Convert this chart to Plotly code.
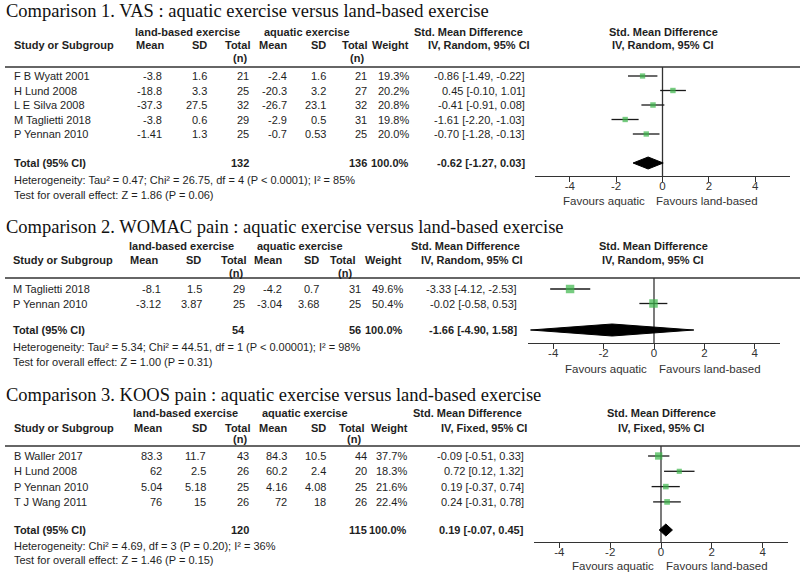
import plotly.graph_objects as go

W, H = 800, 572
SANS = "Liberation Sans, Arial, sans-serif"
SERIF = "Liberation Serif, Times New Roman, serif"
INK = "#1e1e1e"
GREEN = "#3cb64a"

# ---------------- data: Comparison 1 (VAS) ----------------
c1_title = "Comparison 1. VAS : aquatic exercise versus land-based exercise"
c1_method = "IV, Random, 95% CI"
c1_studies = ["F B Wyatt 2001", "H Lund 2008", "L E Silva 2008", "M Taglietti 2018", "P Yennan 2010"]
c1_land_mean = [-3.8, -18.8, -37.3, -3.8, -1.41]
c1_land_sd = [1.6, 3.3, 27.5, 0.6, 1.3]
c1_land_n = [21, 25, 32, 29, 25]
c1_aq_mean = [-2.4, -20.3, -26.7, -2.9, -0.7]
c1_aq_sd = [1.6, 3.2, 23.1, 0.5, 0.53]
c1_aq_n = [21, 27, 32, 31, 25]
c1_weight = [19.3, 20.2, 20.8, 19.8, 20.0]
c1_smd = [-0.86, 0.45, -0.41, -1.61, -0.70]
c1_lo = [-1.49, -0.10, -0.91, -2.20, -1.28]
c1_hi = [-0.22, 1.01, 0.08, -1.03, -0.13]
c1_total_n = [132, 136]
c1_total_smd = [-0.62, -1.27, 0.03]
c1_het = "Heterogeneity: Tau² = 0.47; Chi² = 26.75, df = 4 (P < 0.0001); I² = 85%"
c1_test = "Test for overall effect: Z = 1.86 (P = 0.06)"

# ---------------- data: Comparison 2 (WOMAC pain) ----------------
c2_title = "Comparison 2. WOMAC pain : aquatic exercise versus land-based exercise"
c2_method = "IV, Random, 95% CI"
c2_studies = ["M Taglietti 2018", "P Yennan 2010"]
c2_land_mean = [-8.1, -3.12]
c2_land_sd = [1.5, 3.87]
c2_land_n = [29, 25]
c2_aq_mean = [-4.2, -3.04]
c2_aq_sd = [0.7, 3.68]
c2_aq_n = [31, 25]
c2_weight = [49.6, 50.4]
c2_smd = [-3.33, -0.02]
c2_lo = [-4.12, -0.58]
c2_hi = [-2.53, 0.53]
c2_total_n = [54, 56]
c2_total_smd = [-1.66, -4.90, 1.58]
c2_het = "Heterogeneity: Tau² = 5.34; Chi² = 44.51, df = 1 (P < 0.00001); I² = 98%"
c2_test = "Test for overall effect: Z = 1.00 (P = 0.31)"

# ---------------- data: Comparison 3 (KOOS pain) ----------------
c3_title = "Comparison 3. KOOS pain : aquatic exercise versus land-based exercise"
c3_method = "IV, Fixed, 95% CI"
c3_studies = ["B Waller 2017", "H Lund 2008", "P Yennan 2010", "T J Wang 2011"]
c3_land_mean = [83.3, 62, 5.04, 76]
c3_land_sd = [11.7, 2.5, 5.18, 15]
c3_land_n = [43, 26, 25, 26]
c3_aq_mean = [84.3, 60.2, 4.16, 72]
c3_aq_sd = [10.5, 2.4, 4.08, 18]
c3_aq_n = [44, 20, 25, 26]
c3_weight = [37.7, 18.3, 21.6, 22.4]
c3_smd = [-0.09, 0.72, 0.19, 0.24]
c3_lo = [-0.51, 0.12, -0.37, -0.31]
c3_hi = [0.33, 1.32, 0.74, 0.78]
c3_total_n = [120, 115]
c3_total_smd = [0.19, -0.07, 0.45]
c3_het = "Heterogeneity: Chi² = 4.69, df = 3 (P = 0.20); I² = 36%"
c3_test = "Test for overall effect: Z = 1.46 (P = 0.15)"

tick_vals = [-4, -2, 0, 2, 4]
tick_text = ["-4", "-2", "0", "2", "4"]
fav_left = "Favours aquatic"
fav_right = "Favours land-based"

# ---------------- layout geometry (pixels) ----------------
L1 = dict(title=11, h1=32, h2=45, hn=58, line=67, row0=76, step=14.5, tot=163, het=180, test=195,
          axis=176, fav=201, xd=(535, 790), xr=(-5.5, 5.5),
          cols=(13, 163, 208, 250, 288, 327, 368, 410, 526), hcols=(165, 208, 251, 288, 327, 368, 410),
          land_c=187, aq_c=307, smd_h=(468, 479), right_c=663, fav_x=(646, 655))
L2 = dict(title=227, h1=246, h2=260, hn=273, line=278, row0=289, step=14.5, tot=330, het=347, test=362,
          axis=343, fav=368.5, xd=(528, 780), xr=(-5, 5),
          cols=(12, 162, 203, 246, 283, 320, 362, 404, 518), hcols=(159, 202, 247, 283, 320, 356, 403),
          land_c=181, aq_c=300, smd_h=(465, 472), right_c=653, fav_x=(648, 658))
L3 = dict(title=395, h1=413, h2=428, hn=439, line=446, row0=456, step=15.3, tot=530, het=546, test=560,
          axis=542, fav=566, xd=(534, 788), xr=(-5, 5),
          cols=(13, 163, 207, 250, 288, 327, 368, 408, 525), hcols=(163, 208, 251, 288, 327, 365, 409),
          land_c=185, aq_c=305, smd_h=(467, 484), right_c=661, fav_x=(655, 665))

fig = go.Figure()
annotations = []
shapes = []
layout_axes = {}


def txt(x, y, s, anchor="left", bold=False, size=11, family=SANS, color=INK):
    if bold:
        s = "<b>" + s + "</b>"
    annotations.append(dict(x=x / W, y=1 - y / H, xref="paper", yref="paper", text=s,
                            showarrow=False, xanchor=anchor, yanchor="middle", borderpad=0,
                            font=dict(family=family, size=size, color=color)))


def fmt(v):
    return str(v)


def add_panel(k, title, method, studies, lm, lsd, ln, am, asd, an, wt, est, lo, hi,
              tot_n, tot_smd, het, test, L):
    sx = "" if k == 1 else str(k)
    c = L["cols"]
    hc = L["hcols"]
    # title
    txt(5, L["title"], title, size=18.5, family=SERIF, color="#111")
    # headers
    txt(L["land_c"], L["h1"], "land-based exercise", "center", True)
    txt(L["aq_c"], L["h1"], "aquatic exercise", "center", True)
    txt(c[0], L["h2"], "Study or Subgroup", "left", True)
    for x, s in zip(hc, ["Mean", "SD", "Total", "Mean", "SD", "Total", "Weight"]):
        txt(x, L["h2"], s, "right", True)
    txt(hc[2] - 11, L["hn"], "(n)", "center", True)
    txt(hc[5] - 11, L["hn"], "(n)", "center", True)
    txt(L["smd_h"][0], L["h1"], "Std. Mean Difference", "center", True)
    txt(L["smd_h"][1], L["h2"], method, "center", True)
    txt(L["right_c"], L["h1"], "Std. Mean Difference", "center", True)
    txt(L["right_c"], L["h2"], method, "center", True)
    shapes.append(dict(type="line", xref="paper", yref="paper", x0=5 / W, x1=1,
                       y0=1 - L["line"] / H, y1=1 - L["line"] / H,
                       line=dict(color="#333", width=1.4)))
    # study rows
    rows_y = [L["row0"] + i * L["step"] for i in range(len(studies))]
    for i, y in enumerate(rows_y):
        txt(c[0], y, studies[i])
        vals = [fmt(lm[i]), fmt(lsd[i]), fmt(ln[i]), fmt(am[i]), fmt(asd[i]), fmt(an[i]),
                f"{wt[i]:.1f}%", f"{est[i]:.2f} [{lo[i]:.2f}, {hi[i]:.2f}]"]
        for x, s in zip(c[1:], vals):
            txt(x, y, s, "right")
    # total row
    ty = L["tot"]
    txt(c[0], ty, "Total (95% CI)", "left", True)
    txt(c[3], ty, str(tot_n[0]), "right", True)
    txt(c[6], ty, str(tot_n[1]), "right", True)
    txt(c[7], ty, "100.0%", "right", True)
    txt(c[8], ty, f"{tot_smd[0]:.2f} [{tot_smd[1]:.2f}, {tot_smd[2]:.2f}]", "right", True)
    txt(c[0], L["het"], het)
    txt(c[0], L["test"], test)
    # favours labels
    txt(L["fav_x"][0], L["fav"], fav_left, "right", size=11.5, color="#333")
    txt(L["fav_x"][1], L["fav"], fav_right, "left", size=11.5, color="#333")

    xa, ya = "x" + sx, "y" + sx
    # line of no effect
    shapes.append(dict(type="line", xref=xa, yref=ya + " domain", x0=0, x1=0, y0=0, y1=1,
                       line=dict(color="#333", width=1.3), layer="below"))
    # whiskers + boxes
    fig.add_trace(go.Scatter(
        x=est, y=rows_y, xaxis=xa, yaxis=ya, mode="markers",
        marker=dict(symbol="square", size=[1.2 * w ** 0.5 for w in wt], color=GREEN,
                    line=dict(width=0)),
        error_x=dict(type="data", symmetric=False,
                     array=[h - e for h, e in zip(hi, est)],
                     arrayminus=[e - l for e, l in zip(est, lo)],
                     color="#1a1a1a", thickness=1.3, width=0),
        showlegend=False, hoverinfo="skip"))
    # diamond
    dh = 6
    fig.add_trace(go.Scatter(
        x=[tot_smd[1], tot_smd[0], tot_smd[2], tot_smd[0], tot_smd[1]],
        y=[ty, ty - dh, ty, ty + dh, ty], xaxis=xa, yaxis=ya, mode="lines",
        fill="toself", fillcolor="#000", line=dict(color="#000", width=1),
        showlegend=False, hoverinfo="skip"))

    dom = [L["xd"][0] / W, L["xd"][1] / W]
    layout_axes["xaxis" + sx] = dict(
        domain=dom, range=list(L["xr"]), anchor=ya, showline=True, linecolor="#333", linewidth=1.4,
        ticks="outside", ticklen=5, tickwidth=1.3, tickcolor="#333",
        tickvals=tick_vals, ticktext=tick_text, ticklabelstandoff=-6,
        tickfont=dict(family=SANS, size=11.5, color="#333"),
        zeroline=False, showgrid=False, fixedrange=True)
    layout_axes["yaxis" + sx] = dict(
        domain=[1 - L["axis"] / H, 1 - L["line"] / H], range=[L["axis"], L["line"]],
        visible=False, fixedrange=True)
    ov = str(k + 3)
    layout_axes["xaxis" + ov] = dict(
        overlaying="x" + sx, range=list(L["xr"]), anchor=ya, side="bottom", showline=False,
        ticks="inside", ticklen=5, tickwidth=1.3, tickcolor="#333", tickvals=tick_vals,
        showticklabels=False, zeroline=False, showgrid=False, fixedrange=True)


add_panel(1, c1_title, c1_method, c1_studies, c1_land_mean, c1_land_sd, c1_land_n, c1_aq_mean,
          c1_aq_sd, c1_aq_n, c1_weight, c1_smd, c1_lo, c1_hi, c1_total_n, c1_total_smd,
          c1_het, c1_test, L1)
add_panel(2, c2_title, c2_method, c2_studies, c2_land_mean, c2_land_sd, c2_land_n, c2_aq_mean,
          c2_aq_sd, c2_aq_n, c2_weight, c2_smd, c2_lo, c2_hi, c2_total_n, c2_total_smd,
          c2_het, c2_test, L2)
add_panel(3, c3_title, c3_method, c3_studies, c3_land_mean, c3_land_sd, c3_land_n, c3_aq_mean,
          c3_aq_sd, c3_aq_n, c3_weight, c3_smd, c3_lo, c3_hi, c3_total_n, c3_total_smd,
          c3_het, c3_test, L3)

fig.update_layout(width=W, height=H, margin=dict(l=0, r=0, t=0, b=0),
                  paper_bgcolor="white", plot_bgcolor="rgba(0,0,0,0)",
                  annotations=annotations, shapes=shapes, showlegend=False, **layout_axes)

fig.write_html("out.html", config={"displayModeBar": False},
               post_script="document.body.style.margin='0';document.body.style.overflow='hidden';")
